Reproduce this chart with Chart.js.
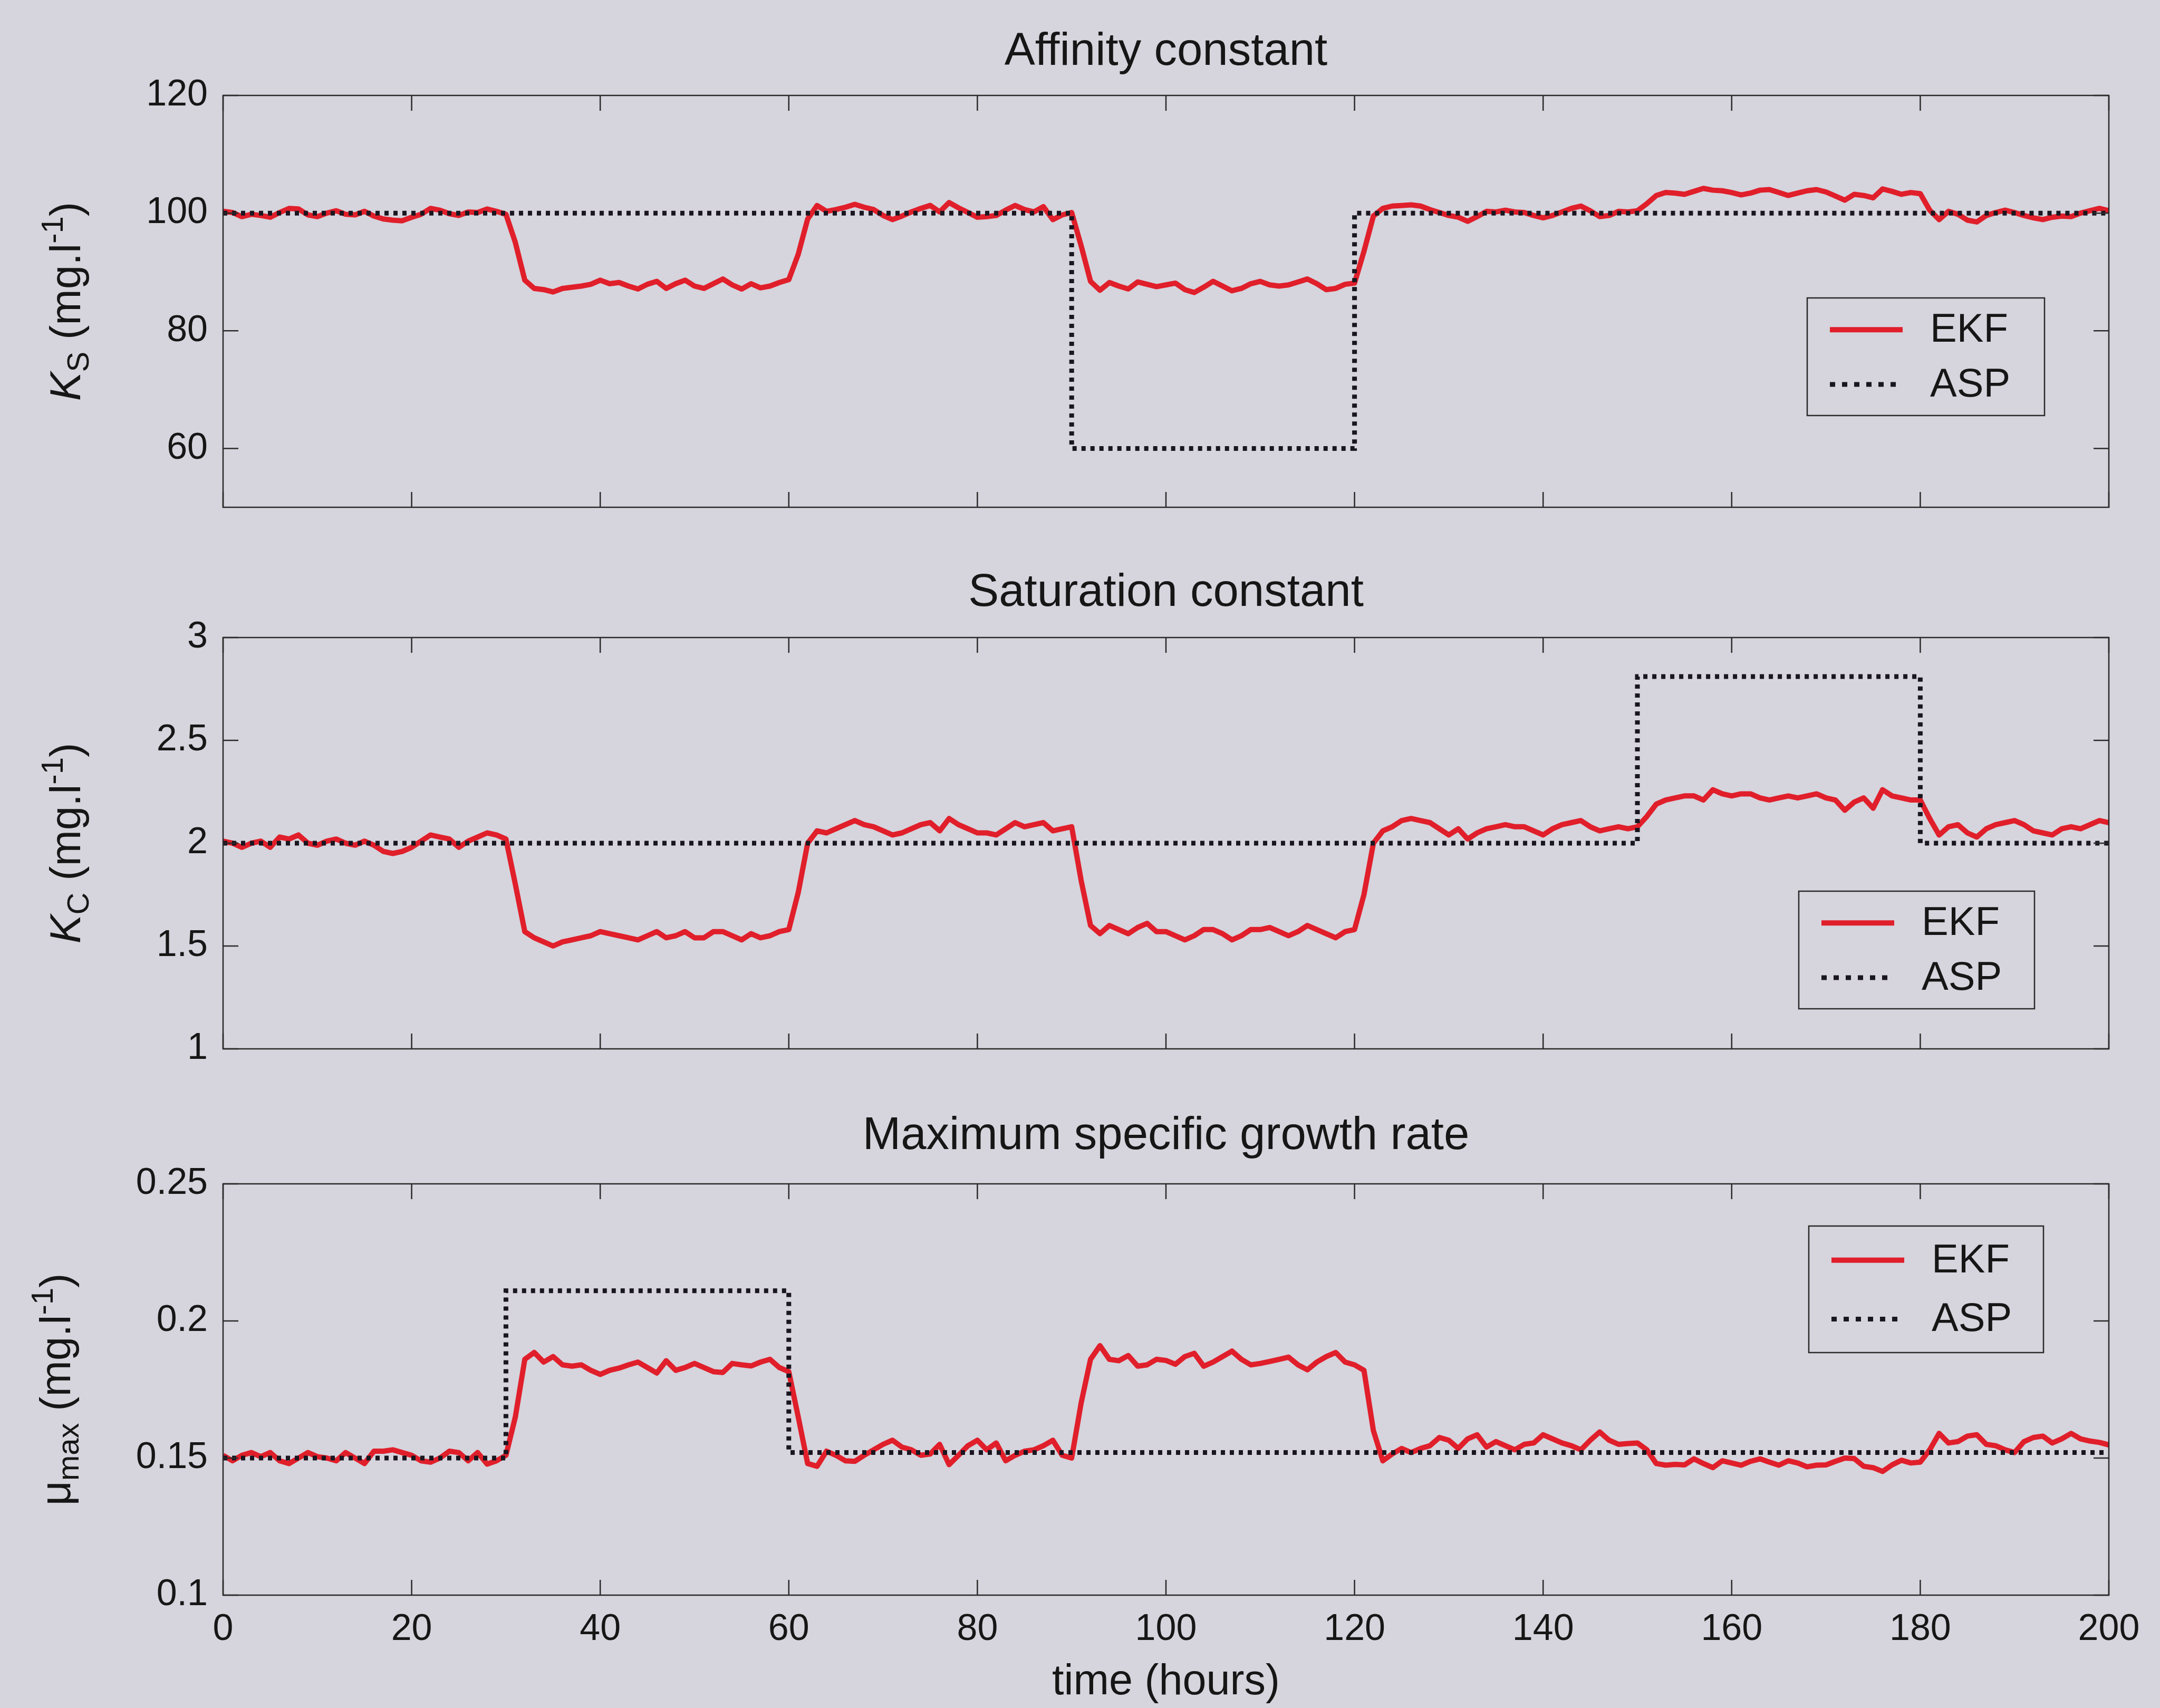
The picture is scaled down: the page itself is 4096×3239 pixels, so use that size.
<!DOCTYPE html>
<html>
<head>
<meta charset="utf-8">
<title>EKF parameter estimates</title>
<script src="https://cdn.jsdelivr.net/npm/chart.js@4.4.1/dist/chart.umd.min.js"></script>
<style>
  html, body { margin: 0; padding: 0; background: #d6d4dc; }
  body { width: 4096px; height: 3239px; position: relative; overflow: hidden; }
  canvas { position: absolute; left: 0; }
</style>
</head>
<body>
<canvas id="ksChart" width="4096" height="1040" style="top:0px"></canvas>
<canvas id="kcChart" width="4096" height="1020" style="top:1040px"></canvas>
<canvas id="muChart" width="4096" height="1179" style="top:2060px"></canvas>
<script>
// EKF estimates, one sample per hour (0..200 h)
const ekfKs = [
  100.3, 100.1, 99.4, 99.8, 99.6, 99.3, 100.1, 100.8, 100.7, 99.7, 99.4,
  100.0, 100.4, 99.8, 99.7, 100.3, 99.5, 99.0, 98.8, 98.7, 99.3,
  99.8, 100.8, 100.5, 99.9, 99.6, 100.2, 100.1, 100.7, 100.3, 99.8,
  95.0, 88.6, 87.2, 87.0, 86.6, 87.2, 87.4, 87.6, 87.9, 88.6,
  88.0, 88.2, 87.6, 87.1, 87.9, 88.4, 87.2, 88.0, 88.6, 87.6,
  87.2, 88.0, 88.8, 87.8, 87.1, 88.0, 87.3, 87.6, 88.2, 88.7,
  93.0, 99.0, 101.3, 100.3, 100.6, 101.0, 101.5, 101.0, 100.6, 99.6,
  98.9, 99.5, 100.2, 100.8, 101.3, 100.2, 101.8, 100.9, 100.1, 99.3,
  99.4, 99.6, 100.5, 101.3, 100.6, 100.2, 101.1, 98.9, 99.7, 100.1,
  94.5, 88.4, 86.9, 88.2, 87.6, 87.1, 88.3, 87.9, 87.5, 87.8,
  88.1, 87.0, 86.5, 87.4, 88.4, 87.6, 86.8, 87.2, 88.0, 88.4,
  87.8, 87.6, 87.8, 88.3, 88.8, 88.0, 87.0, 87.2, 87.9, 88.1,
  93.5, 99.5, 100.8, 101.2, 101.3, 101.4, 101.2, 100.6, 100.1, 99.6,
  99.3, 98.6, 99.4, 100.3, 100.2, 100.5, 100.2, 100.1, 99.6, 99.2,
  99.6, 100.2, 100.8, 101.2, 100.4, 99.4, 99.6, 100.3, 100.2, 100.4,
  101.6, 103.0, 103.5, 103.4, 103.2, 103.7, 104.2, 103.9, 103.8, 103.5,
  103.1, 103.4, 103.9, 104.0, 103.5, 103.0, 103.4, 103.8, 104.0, 103.6,
  102.9, 102.2, 103.2, 103.0, 102.6, 104.1, 103.7, 103.2, 103.5, 103.3,
  100.5, 98.9, 100.3, 99.8, 98.8, 98.5, 99.6, 100.1, 100.5, 100.1,
  99.6, 99.2, 98.9, 99.3, 99.5, 99.4, 100.0, 100.4, 100.8, 100.4
];

const ekfKc = [
  2.01, 2.00, 1.98, 2.00, 2.01, 1.98, 2.03, 2.02, 2.04, 2.00, 1.99,
  2.01, 2.02, 2.00, 1.99, 2.01, 1.99, 1.96, 1.95, 1.96, 1.98,
  2.01, 2.04, 2.03, 2.02, 1.98, 2.01, 2.03, 2.05, 2.04, 2.02,
  1.80, 1.57, 1.54, 1.52, 1.50, 1.52, 1.53, 1.54, 1.55, 1.57,
  1.56, 1.55, 1.54, 1.53, 1.55, 1.57, 1.54, 1.55, 1.57, 1.54,
  1.54, 1.57, 1.57, 1.55, 1.53, 1.56, 1.54, 1.55, 1.57, 1.58,
  1.76, 2.00, 2.06, 2.05, 2.07, 2.09, 2.11, 2.09, 2.08, 2.06,
  2.04, 2.05, 2.07, 2.09, 2.10, 2.06, 2.12, 2.09, 2.07, 2.05,
  2.05, 2.04, 2.07, 2.10, 2.08, 2.09, 2.10, 2.06, 2.07, 2.08,
  1.82, 1.60, 1.56, 1.60, 1.58, 1.56, 1.59, 1.61, 1.57, 1.57,
  1.55, 1.53, 1.55, 1.58, 1.58, 1.56, 1.53, 1.55, 1.58, 1.58,
  1.59, 1.57, 1.55, 1.57, 1.60, 1.58, 1.56, 1.54, 1.57, 1.58,
  1.75, 2.00, 2.06, 2.08, 2.11, 2.12, 2.11, 2.10, 2.07, 2.04,
  2.07, 2.02, 2.05, 2.07, 2.08, 2.09, 2.08, 2.08, 2.06, 2.04,
  2.07, 2.09, 2.10, 2.11, 2.08, 2.06, 2.07, 2.08, 2.07, 2.08,
  2.13, 2.19, 2.21, 2.22, 2.23, 2.23, 2.21, 2.26, 2.24, 2.23,
  2.24, 2.24, 2.22, 2.21, 2.22, 2.23, 2.22, 2.23, 2.24, 2.22,
  2.21, 2.16, 2.20, 2.22, 2.17, 2.26, 2.23, 2.22, 2.21, 2.21,
  2.12, 2.04, 2.08, 2.09, 2.05, 2.03, 2.07, 2.09, 2.10, 2.11,
  2.09, 2.06, 2.05, 2.04, 2.07, 2.08, 2.07, 2.09, 2.11, 2.10
];

const ekfMu = [
  0.151, 0.149, 0.151, 0.152, 0.1505, 0.152, 0.149, 0.148, 0.150, 0.152, 0.1505,
  0.150, 0.149, 0.152, 0.150, 0.148, 0.1525, 0.1525, 0.153, 0.152, 0.151,
  0.149, 0.1485, 0.150, 0.1525, 0.152, 0.149, 0.152, 0.1478, 0.149, 0.151,
  0.165, 0.186, 0.1885, 0.185, 0.187, 0.184, 0.1835, 0.184, 0.182, 0.1805,
  0.182, 0.1828, 0.184, 0.185, 0.183, 0.181, 0.1855, 0.182, 0.183, 0.1845,
  0.183, 0.1815, 0.1812, 0.1845, 0.184, 0.1836, 0.185, 0.186, 0.183, 0.1815,
  0.165, 0.148, 0.147, 0.1525, 0.151, 0.149, 0.1488, 0.151, 0.153, 0.155,
  0.1565, 0.154, 0.153, 0.151, 0.1515, 0.155, 0.1476, 0.151, 0.1545, 0.1565,
  0.153, 0.1555, 0.149, 0.151, 0.1525, 0.153, 0.1545, 0.1565, 0.151, 0.150,
  0.170, 0.186, 0.191, 0.186, 0.1855, 0.1874, 0.1835, 0.184, 0.186, 0.1856,
  0.1842, 0.1870, 0.1882, 0.1835, 0.1850, 0.1870, 0.1890, 0.1860, 0.1840, 0.1845,
  0.1852, 0.1860, 0.1868, 0.1840, 0.1822, 0.1850, 0.1870, 0.1885, 0.1850, 0.1840,
  0.1820, 0.160, 0.1490, 0.1515, 0.1535, 0.152, 0.1535, 0.1545, 0.1575, 0.1565,
  0.1535, 0.157, 0.1585, 0.154, 0.156, 0.1545, 0.153, 0.155, 0.1555, 0.1585,
  0.157, 0.1555, 0.1545, 0.153, 0.1565, 0.1595, 0.1565, 0.155, 0.1553, 0.1555,
  0.153, 0.148, 0.1474, 0.1477, 0.1475, 0.1497, 0.1480, 0.1465, 0.1490, 0.1482,
  0.1474, 0.1488, 0.1497, 0.1485, 0.1474, 0.1490, 0.1482, 0.1468, 0.1474, 0.1475,
  0.1488, 0.1500, 0.1498, 0.1470, 0.1465, 0.1451, 0.1475, 0.1492, 0.1482, 0.1485,
  0.1530, 0.1590, 0.1555, 0.1560, 0.1580, 0.1585, 0.1550, 0.1545, 0.1530, 0.1520,
  0.1560, 0.1575, 0.1580, 0.1555, 0.1570, 0.1590, 0.1570, 0.1562, 0.1557, 0.1548
];

const hours = ekfKs.map((_, i) => i);

// ASP set-points (step profiles: change times and levels)
const aspKsTime = [0, 90, 90, 120, 120, 200];
const aspKs = [100, 100, 60, 60, 100, 100];
const aspKcTime = [0, 150, 150, 180, 180, 200];
const aspKc = [2, 2, 2.81, 2.81, 2, 2];
const aspMuTime = [0, 30, 30, 60, 60, 200];
const aspMu = [0.15, 0.15, 0.211, 0.211, 0.152, 0.152];

const xTicks = [0, 20, 40, 60, 80, 100, 120, 140, 160, 180, 200];

const FONT = '"Liberation Sans", Arial, Helvetica, sans-serif';
const INK = '#161616';
const BG = '#d6d4dc';
const EKF_RED = '#e01f2b';
const ASP_INK = '#1a1620';

Chart.defaults.font.family = FONT;
Chart.defaults.color = INK;

const toPoints = (times, values) => times.map((t, i) => ({ x: t, y: values[i] }));

// box, inward ticks on all four sides
const axisFrame = {
  id: 'axisFrame',
  afterDatasetsDraw(chart) {
    const { ctx, chartArea: a, scales: { x, y } } = chart;
    const len = 29;
    ctx.save();
    ctx.strokeStyle = '#2a2a2a';
    ctx.lineWidth = 2.5;
    ctx.beginPath();
    x.ticks.forEach(t => {
      const px = x.getPixelForValue(t.value);
      ctx.moveTo(px, a.bottom); ctx.lineTo(px, a.bottom - len);
      ctx.moveTo(px, a.top); ctx.lineTo(px, a.top + len);
    });
    y.ticks.forEach(t => {
      const py = y.getPixelForValue(t.value);
      ctx.moveTo(a.left, py); ctx.lineTo(a.left + len, py);
      ctx.moveTo(a.right, py); ctx.lineTo(a.right - len, py);
    });
    ctx.stroke();
    ctx.strokeRect(a.left, a.top, a.right - a.left, a.bottom - a.top);
    ctx.restore();
  }
};

// panel title and the rotated y label with sub/superscripts
const panelText = {
  id: 'panelText',
  afterDraw(chart, args, opts) {
    const { ctx, chartArea: a } = chart;
    ctx.save();
    ctx.fillStyle = INK;
    ctx.font = `87px ${FONT}`;
    ctx.textAlign = 'center';
    ctx.textBaseline = 'alphabetic';
    ctx.fillText(opts.title, (a.left + a.right) / 2, a.top - opts.titleGap);

    ctx.translate(opts.labelX, (a.top + a.bottom) / 2);
    ctx.rotate(-Math.PI / 2);
    ctx.textAlign = 'left';
    let total = 0;
    opts.label.forEach(p => { ctx.font = p.font; p.w = ctx.measureText(p.text).width; total += p.w; });
    let cx = -total / 2;
    opts.label.forEach(p => {
      ctx.font = p.font;
      ctx.fillText(p.text, cx, p.dy || 0);
      cx += p.w;
    });
    ctx.restore();
  }
};

// framed legend inside the axes
const boxLegend = {
  id: 'boxLegend',
  afterDraw(chart, args, opts) {
    const { ctx } = chart;
    const [l, t, r, b] = opts.box;
    const h = b - t;
    ctx.save();
    ctx.fillStyle = BG;
    ctx.fillRect(l, t, r - l, h);
    ctx.strokeStyle = '#2a2a2a';
    ctx.lineWidth = 2.5;
    ctx.strokeRect(l, t, r - l, h);
    const rows = [t + h * 0.27, t + h * 0.735];
    const ordered = ['EKF', 'ASP'].map(name => chart.data.datasets.find(d => d.label === name));
    ordered.forEach((ds, i) => {
      ctx.beginPath();
      ctx.strokeStyle = ds.borderColor;
      ctx.lineWidth = ds.borderWidth;
      ctx.lineCap = 'butt';
      ctx.setLineDash(ds.label === 'ASP' ? [10, 13] : []);
      ctx.moveTo(l + 43, rows[i]);
      ctx.lineTo(l + 181, rows[i]);
      ctx.stroke();
      ctx.setLineDash([]);
      ctx.fillStyle = INK;
      ctx.font = `76px ${FONT}`;
      ctx.textBaseline = 'middle';
      ctx.textAlign = 'left';
      ctx.fillText(ds.label, l + 233, rows[i] + 2);
    });
    ctx.restore();
  }
};

const big = `82px ${FONT}`;
const small = `58px ${FONT}`;
const unitParts = [
  { text: ' (mg.l', font: big },
  { text: '-1', font: small, dy: -33 },
  { text: ')', font: big }
];

function makePanel(id, cfg) {
  return new Chart(document.getElementById(id), {
    type: 'line',
    data: {
      datasets: [
        {
          label: 'ASP',
          data: toPoints(cfg.aspTime, cfg.asp),
          borderColor: ASP_INK,
          borderWidth: 9,
          borderDash: [8, 9],
          borderCapStyle: 'butt',
          pointRadius: 0,
          tension: 0,
          order: 0
        },
        {
          label: 'EKF',
          data: toPoints(hours, cfg.ekf),
          borderColor: EKF_RED,
          borderWidth: 10,
          borderJoinStyle: 'round',
          pointRadius: 0,
          tension: 0,
          order: 1
        }
      ]
    },
    options: {
      responsive: false,
      animation: false,
      devicePixelRatio: 1,
      layout: { padding: { top: cfg.padTop, right: 97, left: 0, bottom: 0 } },
      plugins: {
        legend: { display: false },
        tooltip: { enabled: false },
        panelText: { title: cfg.title, titleGap: cfg.titleGap, label: cfg.label, labelX: cfg.labelX },
        boxLegend: { box: cfg.legendBox }
      },
      scales: {
        x: {
          type: 'linear',
          min: 0,
          max: 200,
          afterBuildTicks: s => { s.ticks = xTicks.map(v => ({ value: v })); },
          afterFit: s => { s.height = cfg.xHeight; },
          grid: { display: false, drawTicks: false },
          border: { display: false },
          ticks: {
            display: cfg.showX,
            autoSkip: false,
            maxRotation: 0,
            padding: 24,
            color: INK,
            font: { size: 70 }
          },
          title: {
            display: cfg.showX,
            text: 'time (hours)',
            color: INK,
            font: { size: 81 },
            padding: { top: 0, bottom: 0 }
          }
        },
        y: {
          min: cfg.yMin,
          max: cfg.yMax,
          afterFit: s => { s.width = 423; },
          grid: { display: false, drawTicks: false },
          border: { display: false },
          ticks: {
            stepSize: cfg.yStep,
            includeBounds: false,
            padding: 29,
            color: INK,
            font: { size: 70 },
            callback: v => String(+v.toFixed(4))
          }
        }
      }
    },
    plugins: [axisFrame, panelText, boxLegend]
  });
}

// panel canvases start at 0, 1040 and 2060 px
makePanel('ksChart', {
  ekf: ekfKs, aspTime: aspKsTime, asp: aspKs,
  yMin: 50, yMax: 120, yStep: 20,
  padTop: 181, xHeight: 78, showX: false,
  title: 'Affinity constant', titleGap: 58,
  labelX: 152,
  label: [{ text: 'K', font: `italic ${big}` }, { text: 'S', font: small, dy: 16 }, ...unitParts],
  legendBox: [3427, 565, 3877, 788]
});

makePanel('kcChart', {
  ekf: ekfKc, aspTime: aspKcTime, asp: aspKc,
  yMin: 1, yMax: 3, yStep: 0.5,
  padTop: 169, xHeight: 71, showX: false,
  title: 'Saturation constant', titleGap: 60,
  labelX: 152,
  label: [{ text: 'K', font: `italic ${big}` }, { text: 'C', font: small, dy: 16 }, ...unitParts],
  legendBox: [3411, 1690 - 1040, 3858, 1913 - 1040]
});

makePanel('muChart', {
  ekf: ekfMu, aspTime: aspMuTime, asp: aspMu,
  yMin: 0.1, yMax: 0.25, yStep: 0.05,
  padTop: 185, xHeight: 214, showX: true,
  title: 'Maximum specific growth rate', titleGap: 66,
  labelX: 133,
  label: [{ text: 'μ', font: big }, { text: 'max', font: small, dy: 16 }, ...unitParts],
  legendBox: [3430, 2325 - 2060, 3875, 2565 - 2060]
});
</script>
</body>
</html>
